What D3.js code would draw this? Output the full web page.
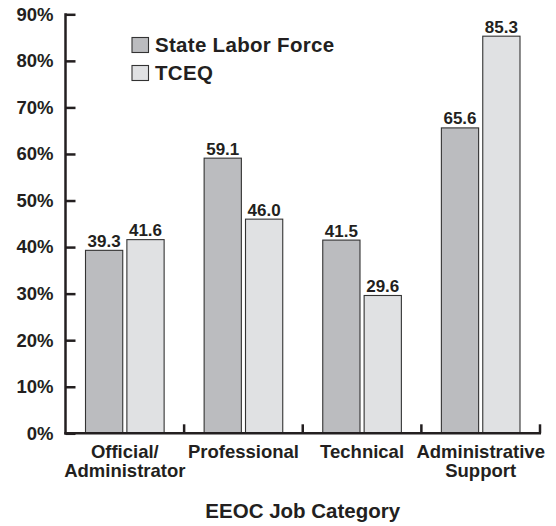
<!DOCTYPE html>
<html><head><meta charset="utf-8">
<script src="https://cdn.jsdelivr.net/npm/d3@7"></script>
<style>body{margin:0;background:#fff}svg{display:block}text{font-family:"Liberation Sans",Arial,Helvetica,sans-serif;font-weight:bold;fill:#231f20}</style>
</head><body>
<script>
const categories = [["Official/","Administrator"],["Professional"],["Technical"],["Administrative","Support"]];
const seriesNames = ["State Labor Force","TCEQ"];
const stateLaborForce = [39.3, 59.1, 41.5, 65.6];
const tceq = [41.6, 46.0, 29.6, 85.3];
const yTicks = [0,10,20,30,40,50,60,70,80,90];
const seriesValues = [stateLaborForce, tceq];
const colors = ["#bbbcbf","#e0e1e3"];
const ink = "#231f20";

const W=556,H=526;
const svg=d3.select("body").append("svg").attr("width",W).attr("height",H);
const catKeys = categories.map(c=>c.join(" "));
const x=d3.scaleBand().domain(catKeys).range([65.5,540]).padding(0);
const x1=d3.scaleBand().domain(seriesNames).range([20,x.bandwidth()-20]).paddingInner(0.1);
const y=d3.scaleLinear().domain([0,90]).range([433.3,14.3]);

// bars
catKeys.forEach((k,i)=>{
  const g=svg.append("g").attr("transform",`translate(${x(k)},0)`);
  seriesNames.forEach((s,j)=>{
    const v=seriesValues[j][i];
    g.append("rect").attr("x",x1(s)).attr("y",y(v)).attr("width",x1.bandwidth()).attr("height",y(0)-y(v))
      .attr("fill",colors[j]).attr("stroke","#333").attr("stroke-width",1.1);
    g.append("text").attr("x",x1(s)+x1.bandwidth()/2).attr("y",y(v)-3.5).attr("text-anchor","middle")
      .attr("font-size",17).text(v.toFixed(1));
  });
});

// y axis
const yAxis=d3.axisLeft(y).tickValues(yTicks).tickFormat(d=>d+"%").tickSizeInner(-10).tickSizeOuter(0).tickPadding(12);
const ya=svg.append("g").attr("transform","translate(65.5,0)").call(yAxis);
ya.selectAll("path,line").attr("stroke",ink).attr("stroke-width",2.5);
ya.selectAll("text").attr("font-size",18.5).attr("font-family","Liberation Sans, Arial, sans-serif").attr("font-weight","bold").attr("fill",ink);
ya.select(".domain").remove();
svg.append("line").attr("x1",65.5).attr("x2",65.5).attr("y1",y(90)-1).attr("y2",y(0)+1.2).attr("stroke",ink).attr("stroke-width",2.5);

// x axis
svg.append("line").attr("x1",64.3).attr("x2",x.range()[1]+1).attr("y1",y(0)).attr("y2",y(0)).attr("stroke",ink).attr("stroke-width",2.5);
catKeys.forEach(k=>{
  const bx=x(k)+x.bandwidth();
  svg.append("line").attr("x1",bx).attr("x2",bx).attr("y1",y(0)).attr("y2",y(0)-9).attr("stroke",ink).attr("stroke-width",2.5);
});
catKeys.forEach((k,i)=>{
  const t=svg.append("text").attr("text-anchor","middle").attr("font-size",18.5)
    .attr("x",x(k)+x.bandwidth()/2).attr("y",457.5);
  categories[i].forEach((line,li)=>{
    t.append("tspan").attr("x",x(k)+x.bandwidth()/2).attr("dy",li?19.5:0).text(line);
  });
});
const [r0,r1]=x.range();
svg.append("text").attr("x",(r0+r1)/2).attr("y",518).attr("text-anchor","middle").attr("font-size",20.5).text("EEOC Job Category");

// legend
seriesNames.forEach((s,j)=>{
  svg.append("rect").attr("x",132).attr("y",37.5+j*28).attr("width",16.5).attr("height",15)
    .attr("fill",colors[j]).attr("stroke","#333").attr("stroke-width",1.1);
  svg.append("text").attr("x",155).attr("y",51.5+j*28).attr("font-size",20.5).attr("letter-spacing",0.3).text(s);
});
</script>
</body></html>
